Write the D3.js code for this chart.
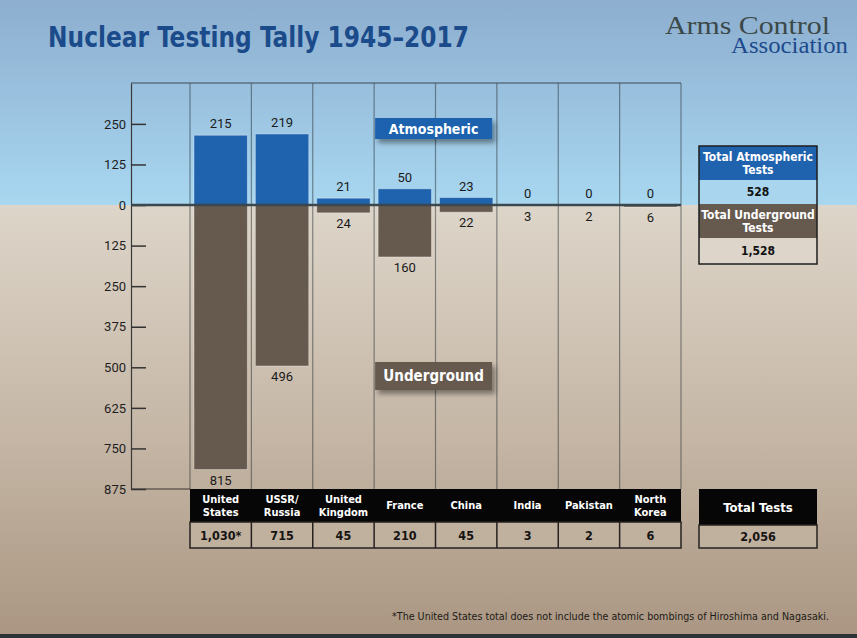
<!DOCTYPE html>
<html>
<head>
<meta charset="utf-8">
<script src="https://cdn.jsdelivr.net/npm/d3@7"></script>
<style>
  html, body { margin: 0; padding: 0; background: #fff; }
  svg { display: block; font-family: Roboto, "Liberation Sans", sans-serif; }
</style>
</head>
<body>
<div id="chart"></div>
<script>
// Data
const countries = ["United States", "USSR/Russia", "United Kingdom", "France", "China", "India", "Pakistan", "North Korea"];
const countryLabels = [["United", "States"], ["USSR/", "Russia"], ["United", "Kingdom"], ["France"], ["China"], ["India"], ["Pakistan"], ["North", "Korea"]];
const atmospheric = [215, 219, 21, 50, 23, 0, 0, 0];
const underground = [815, 496, 24, 160, 22, 3, 2, 6];
const tickValues = [250, 125, 0, -125, -250, -375, -500, -625, -750, -875];

const width = 857, height = 638;
const condensed = '"Liberation Sans Narrow", "DejaVu Sans Condensed", Roboto, sans-serif';
const blue = '#1f62ae', brown = '#665a4f';

const svg = d3.select('#chart').append('svg')
  .attr('width', width)
  .attr('height', height)
  .attr('viewBox', `0 0 ${width} ${height}`);

const defs = svg.append('defs');
const sky = defs.append('linearGradient').attr('id', 'sky').attr('x1', 0).attr('x2', 0).attr('y1', 0).attr('y2', 1);
sky.append('stop').attr('offset', '0%').attr('stop-color', '#8daecf');
sky.append('stop').attr('offset', '100%').attr('stop-color', '#a8d7f0');
const ground = defs.append('linearGradient').attr('id', 'ground').attr('x1', 0).attr('x2', 0).attr('y1', 0).attr('y2', 1);
ground.append('stop').attr('offset', '0%').attr('stop-color', '#ddd5c9');
ground.append('stop').attr('offset', '55%').attr('stop-color', '#c4b5a4');
ground.append('stop').attr('offset', '100%').attr('stop-color', '#aa9682');
defs.append('filter').attr('id', 'shadow').attr('x', '-20%').attr('y', '-30%').attr('width', '150%').attr('height', '190%')
  .append('feDropShadow').attr('dx', 3).attr('dy', 4).attr('stdDeviation', 2.5).attr('flood-color', '#000').attr('flood-opacity', 0.4);

// Scales
const x = d3.scaleBand().domain(countries).range([190, 681]).padding(0);
const y = d3.scaleLinear().domain([-875, 376]).range([489, 83]);
const plotLeft = 131, plotRight = 681, plotTop = y(376), plotBottom = y(-875), zero = y(0);

// Background: sky above zero, ground below
svg.append('rect').attr('x', 0).attr('y', 0).attr('width', width).attr('height', zero).attr('fill', 'url(#sky)');
svg.append('rect').attr('x', 0).attr('y', zero).attr('width', width).attr('height', height - zero).attr('fill', 'url(#ground)');
svg.append('rect').attr('x', 0).attr('y', 634).attr('width', width).attr('height', 4).attr('fill', '#2c3136');

// Title and logo
svg.append('text')
  .attr('x', 48).attr('y', 47)
  .attr('font-family', condensed).attr('font-weight', 'bold').attr('font-size', 28)
  .attr('fill', '#1b4b8a')
  .attr('textLength', 421).attr('lengthAdjust', 'spacingAndGlyphs')
  .text('Nuclear Testing Tally 1945–2017');

svg.append('text')
  .attr('x', 665).attr('y', 34)
  .attr('font-family', '"Liberation Serif", "DejaVu Serif", serif').attr('font-size', 25)
  .attr('fill', '#3b4949')
  .attr('textLength', 165).attr('lengthAdjust', 'spacingAndGlyphs')
  .text('Arms Control');
svg.append('text')
  .attr('x', 731).attr('y', 53)
  .attr('font-family', '"Liberation Serif", "DejaVu Serif", serif').attr('font-size', 23)
  .attr('fill', '#1d4a8c')
  .attr('textLength', 117).attr('lengthAdjust', 'spacingAndGlyphs')
  .text('Association');

// Column dividers and frame
const lineColor = 'rgba(40,45,50,0.5)';
svg.append('g')
  .selectAll('line')
  .data(countries)
  .join('line')
  .attr('x1', d => x(d)).attr('x2', d => x(d))
  .attr('y1', plotTop).attr('y2', plotBottom)
  .attr('stroke', lineColor).attr('stroke-width', 1.2);
svg.append('line').attr('x1', plotRight).attr('x2', plotRight).attr('y1', plotTop).attr('y2', plotBottom)
  .attr('stroke', lineColor).attr('stroke-width', 1.2);
svg.append('line').attr('x1', plotLeft).attr('x2', plotRight).attr('y1', plotTop).attr('y2', plotTop)
  .attr('stroke', '#3c4c58').attr('stroke-width', 1.2);
svg.append('line').attr('x1', plotLeft).attr('x2', x(countries[0])).attr('y1', plotBottom).attr('y2', plotBottom)
  .attr('stroke', '#3a342e').attr('stroke-width', 1.2);

// Y axis
const axis = svg.append('g')
  .attr('transform', `translate(${plotLeft},0)`)
  .call(d3.axisLeft(y)
    .tickValues(tickValues)
    .tickSize(-15)
    .tickSizeOuter(0)
    .tickPadding(5)
    .tickFormat(d => Math.abs(d)));
axis.select('.domain').attr('stroke', '#3a3a3a').attr('stroke-width', 1.2);
axis.selectAll('.tick line').attr('stroke', '#333').attr('stroke-width', 1.5);
axis.selectAll('.tick text')
  .attr('font-family', 'Roboto, sans-serif').attr('font-size', 13).attr('fill', '#1e1e1e');

// Bars
const rows = countries.map((c, i) => ({ country: c, atm: atmospheric[i], und: underground[i] }));
const inset = 4;

svg.append('g')
  .selectAll('rect')
  .data(rows)
  .join('rect')
  .attr('x', d => x(d.country) + inset)
  .attr('width', x.bandwidth() - inset * 2)
  .attr('y', zero)
  .attr('height', d => y(-d.und) - zero)
  .attr('fill', brown)
  .attr('stroke', 'rgba(255,255,255,0.35)').attr('stroke-width', 1);

svg.append('g')
  .selectAll('rect')
  .data(rows.filter(d => d.atm > 0))
  .join('rect')
  .attr('x', d => x(d.country) + inset)
  .attr('width', x.bandwidth() - inset * 2)
  .attr('y', d => y(d.atm))
  .attr('height', d => zero - y(d.atm))
  .attr('fill', blue)
  .attr('stroke', 'rgba(255,255,255,0.35)').attr('stroke-width', 1);

// Zero line
svg.append('line').attr('x1', plotLeft).attr('x2', plotRight).attr('y1', zero).attr('y2', zero)
  .attr('stroke', '#3b474e').attr('stroke-width', 2.5);

// Value labels
svg.append('g')
  .selectAll('text')
  .data(rows)
  .join('text')
  .attr('x', d => x(d.country) + x.bandwidth() / 2)
  .attr('y', d => y(d.atm) - 7)
  .attr('text-anchor', 'middle')
  .attr('font-size', 13).attr('fill', '#1a1a1a')
  .text(d => d.atm);
svg.append('g')
  .selectAll('text')
  .data(rows)
  .join('text')
  .attr('x', d => x(d.country) + x.bandwidth() / 2)
  .attr('y', d => y(-d.und) + 15)
  .attr('text-anchor', 'middle')
  .attr('font-size', 13).attr('fill', '#1a1a1a')
  .text(d => d.und);

// Series label boxes
function labelBox(bx, by, bw, bh, fill, label, size) {
  const g = svg.append('g');
  g.append('rect').attr('x', bx).attr('y', by).attr('width', bw).attr('height', bh)
    .attr('fill', fill).attr('filter', 'url(#shadow)');
  g.append('text')
    .attr('x', bx + bw / 2).attr('y', by + bh / 2)
    .attr('dy', '0.36em').attr('text-anchor', 'middle')
    .attr('font-family', condensed).attr('font-weight', 'bold').attr('font-size', size)
    .attr('fill', '#fff')
    .text(label);
}
labelBox(x('France') + 1, 118, 117, 21, blue, 'Atmospheric', 14);
labelBox(x('France') + 1, 362, 117, 28, brown, 'Underground', 15);

// Table of totals under the chart
const headerTop = plotBottom, headerBottom = 522, rowBottom = 548;
const table = svg.append('g');
table.append('rect').attr('x', x.range()[0]).attr('y', headerTop)
  .attr('width', x.range()[1] - x.range()[0]).attr('height', headerBottom - headerTop)
  .attr('fill', '#060606');
table.append('rect').attr('x', x.range()[0]).attr('y', headerBottom)
  .attr('width', x.range()[1] - x.range()[0]).attr('height', rowBottom - headerBottom)
  .attr('fill', '#c0b09e').attr('stroke', '#262220').attr('stroke-width', 1.5);
table.selectAll('line.div')
  .data(countries.slice(1))
  .join('line')
  .attr('class', 'div')
  .attr('x1', d => x(d)).attr('x2', d => x(d))
  .attr('y1', headerBottom).attr('y2', rowBottom)
  .attr('stroke', '#262220').attr('stroke-width', 1.5);

const heads = table.selectAll('text.head')
  .data(rows)
  .join('text')
  .attr('class', 'head')
  .attr('text-anchor', 'middle')
  .attr('font-family', condensed).attr('font-weight', 'bold').attr('font-size', 11)
  .attr('fill', '#fff');
heads.each(function (d, i) {
  const lines = countryLabels[i];
  const cx = x(d.country) + x.bandwidth() / 2;
  const cy = (headerTop + headerBottom) / 2;
  d3.select(this).selectAll('tspan')
    .data(lines)
    .join('tspan')
    .attr('x', cx)
    .attr('y', (l, j) => cy + (j - (lines.length - 1) / 2) * 13)
    .attr('dy', '0.35em')
    .text(l => l);
});

table.selectAll('text.total')
  .data(rows)
  .join('text')
  .attr('class', 'total')
  .attr('x', d => x(d.country) + x.bandwidth() / 2)
  .attr('y', (headerBottom + rowBottom) / 2)
  .attr('dy', '0.36em')
  .attr('text-anchor', 'middle')
  .attr('font-family', condensed).attr('font-weight', 'bold').attr('font-size', 12.5)
  .attr('fill', '#161412')
  .text((d, i) => d3.format(',')(d.atm + d.und) + (i === 0 ? '*' : ''));

// Total tests box
const tbX = 699, tbW = 118;
const totalAtm = d3.sum(atmospheric), totalUnd = d3.sum(underground);
svg.append('rect').attr('x', tbX).attr('y', headerTop).attr('width', tbW).attr('height', 525 - headerTop)
  .attr('fill', '#060606');
svg.append('rect').attr('x', tbX).attr('y', 525).attr('width', tbW).attr('height', rowBottom - 525)
  .attr('fill', '#c0b09e').attr('stroke', '#262220').attr('stroke-width', 1.5);
svg.append('text').attr('x', tbX + tbW / 2).attr('y', (headerTop + 525) / 2).attr('dy', '0.36em')
  .attr('text-anchor', 'middle').attr('font-family', condensed).attr('font-weight', 'bold').attr('font-size', 13)
  .attr('fill', '#fff').text('Total Tests');
svg.append('text').attr('x', tbX + tbW / 2).attr('y', (525 + rowBottom) / 2).attr('dy', '0.36em')
  .attr('text-anchor', 'middle').attr('font-family', condensed).attr('font-weight', 'bold').attr('font-size', 12.5)
  .attr('fill', '#161412').text(d3.format(',')(totalAtm + totalUnd));

// Right-hand summary panel
const panel = [
  { y0: 146, y1: 180, fill: blue, lines: ['Total Atmospheric', 'Tests'], color: '#fff' },
  { y0: 180, y1: 204, fill: '#a9d6ee', lines: [d3.format(',')(totalAtm)], color: '#111' },
  { y0: 204, y1: 238, fill: brown, lines: ['Total Underground', 'Tests'], color: '#fff' },
  { y0: 238, y1: 264, fill: '#ddd5ca', lines: [d3.format(',')(totalUnd)], color: '#111' }
];
const pg = svg.append('g');
pg.selectAll('rect')
  .data(panel)
  .join('rect')
  .attr('x', tbX).attr('width', tbW)
  .attr('y', d => d.y0).attr('height', d => d.y1 - d.y0)
  .attr('fill', d => d.fill);
pg.append('rect').attr('x', tbX).attr('y', 146).attr('width', tbW).attr('height', 264 - 146)
  .attr('fill', 'none').attr('stroke', '#1e1e1e').attr('stroke-width', 1.5);
pg.selectAll('text')
  .data(panel)
  .join('text')
  .attr('text-anchor', 'middle')
  .attr('font-family', condensed).attr('font-weight', 'bold').attr('font-size', 12)
  .attr('fill', d => d.color)
  .each(function (d) {
    const cy = (d.y0 + d.y1) / 2;
    d3.select(this).selectAll('tspan')
      .data(d.lines)
      .join('tspan')
      .attr('x', tbX + tbW / 2)
      .attr('y', (l, j) => cy + (j - (d.lines.length - 1) / 2) * 13)
      .attr('dy', '0.35em')
      .text(l => l);
  });

// Footnote
svg.append('text')
  .attr('x', 829).attr('y', 620)
  .attr('text-anchor', 'end')
  .attr('font-family', condensed).attr('font-size', 10.5)
  .attr('fill', '#1e1a16')
  .attr('textLength', 437).attr('lengthAdjust', 'spacingAndGlyphs')
  .text('*The United States total does not include the atomic bombings of Hiroshima and Nagasaki.');
</script>
</body>
</html>
